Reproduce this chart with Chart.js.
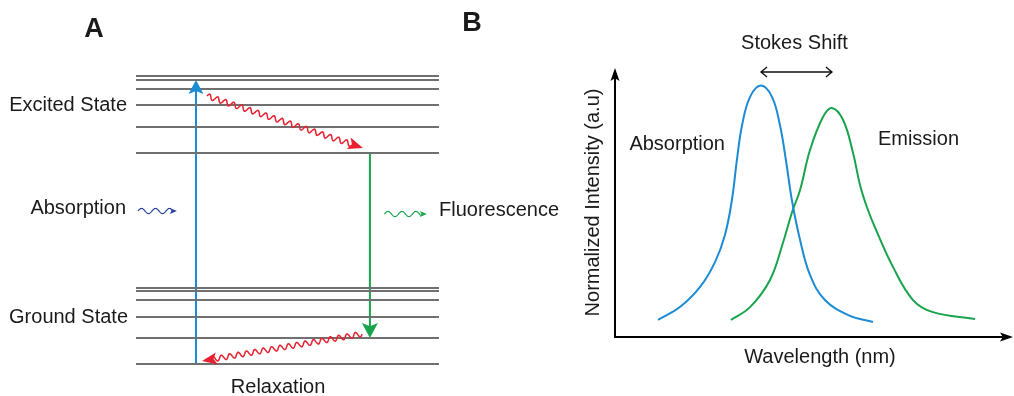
<!DOCTYPE html>
<html>
<head>
<meta charset="utf-8">
<script src="https://cdn.jsdelivr.net/npm/chart.js@4/dist/chart.umd.min.js"></script>
<style>
  body { margin: 0; background: #fff; }
  #wrap { position: relative; width: 1014px; height: 396px; }
  canvas { position: absolute; left: 0; top: 0; }
</style>
</head>
<body>
<div id="wrap">
  <canvas id="jablonski" width="1014" height="396"></canvas>
  <canvas id="spectra" width="1014" height="396"></canvas>
</div>
<script>
// ---- Panel A: energy levels (arbitrary units, lowest ground level = 0)
groundLevels = [0, 0.26, 0.47, 0.64, 0.73, 0.76];
excitedLevels = [2.11, 2.37, 2.59, 2.75, 2.84, 2.88];
absorptionX = 1.98;           // blue arrow, ground 0 -> excited 2.84
absorptionFromTo = [0, 2.84];
fluorescenceX = 7.72;         // green arrow, excited 2.11 -> ground 0.26
fluorescenceFromTo = [2.11, 0.26];
relaxTop = [[2.34, 2.68], [7.49, 2.16]];     // [x, E] start, end
relaxBottom = [[7.46, 0.30], [2.18, 0.03]];

// ---- Panel B: absorption / emission spectra
absWavelength = [417.3, 426.1, 434.2, 440.2, 444.2, 447.0, 449.0, 451.1, 454.3, 458.7, 463.1, 466.3, 468.7, 471.1, 474.4, 478.4, 484.4, 494.5, 503.7];
absIntensity  = [0.068, 0.119, 0.199, 0.298, 0.406, 0.545, 0.704, 0.843, 0.955, 1.0, 0.955, 0.843, 0.704, 0.545, 0.386, 0.247, 0.147, 0.084, 0.060];
emWavelength  = [446.6, 454.3, 462.3, 467.5, 471.2, 474.4, 478.4, 483.6, 487.2, 491.7, 495.7, 498.5, 501.4, 504.6, 511.8, 519.8, 527.8, 544.7];
emIntensity   = [0.068, 0.119, 0.227, 0.374, 0.497, 0.585, 0.744, 0.875, 0.911, 0.863, 0.732, 0.605, 0.513, 0.434, 0.278, 0.147, 0.099, 0.072];

const FONT = '"Liberation Sans", Arial, sans-serif';
const TXT = '#1a1a1a';
const BLUE = '#1b8bd4';
const GREEN = '#19a34c';
const RED = '#e8202f';
const GREY = '#707070';

function pts(xs, ys) { return xs.map((x, i) => ({ x: x, y: ys[i] })); }

function arrowHead(ctx, x, y, ang, len, wid, color) {
  ctx.save();
  ctx.translate(x, y);
  ctx.rotate(ang);
  ctx.beginPath();
  ctx.moveTo(0, 0);
  ctx.lineTo(-len, -wid / 2);
  ctx.lineTo(-len * 0.78, 0);
  ctx.lineTo(-len, wid / 2);
  ctx.closePath();
  ctx.fillStyle = color;
  ctx.fill();
  ctx.restore();
}

// wavy stroke between two pixel points, ending in an arrow head
function wavy(ctx, x1, y1, x2, y2, amp, period, color, lw, hl, hw) {
  const ang = Math.atan2(y2 - y1, x2 - x1);
  const L = Math.hypot(x2 - x1, y2 - y1) - hl * 0.8;
  ctx.save();
  ctx.translate(x1, y1);
  ctx.rotate(ang);
  ctx.beginPath();
  for (let s = 0; s <= L; s += 0.5) {
    const w = -amp * Math.sin(2 * Math.PI * s / period);
    if (s === 0) ctx.moveTo(s, w); else ctx.lineTo(s, w);
  }
  ctx.strokeStyle = color;
  ctx.lineWidth = lw;
  ctx.stroke();
  ctx.restore();
  arrowHead(ctx, x2, y2, ang, hl, hw, color);
}

function text(ctx, str, x, y, align, font) {
  ctx.save();
  ctx.font = font || ('20px ' + FONT);
  ctx.fillStyle = TXT;
  ctx.textAlign = align || 'center';
  ctx.textBaseline = 'middle';
  ctx.fillText(str, x, y);
  ctx.restore();
}

// ---------------- Chart A
const levelSets = groundLevels.concat(excitedLevels).map(e => ({
  data: [{ x: 0, y: e }, { x: 10, y: e }],
  borderColor: GREY, borderWidth: 1.8, pointRadius: 0, clip: false
}));

const jablonskiDecor = {
  id: 'jablonskiDecor',
  afterDatasetsDraw(chart) {
    const ctx = chart.ctx, xs = chart.scales.x, ys = chart.scales.y;
    const a = chart.chartArea;
    // heads of the straight transitions
    arrowHead(ctx, xs.getPixelForValue(absorptionX), ys.getPixelForValue(absorptionFromTo[1]), -Math.PI / 2, 14, 15, BLUE);
    arrowHead(ctx, xs.getPixelForValue(fluorescenceX), ys.getPixelForValue(fluorescenceFromTo[1]), Math.PI / 2, 15, 16, GREEN);
    // vibrational relaxation
    [relaxTop, relaxBottom].forEach(r => {
      wavy(ctx, xs.getPixelForValue(r[0][0]), ys.getPixelForValue(r[0][1]),
        xs.getPixelForValue(r[1][0]), ys.getPixelForValue(r[1][1]), 2.6, 8.5, RED, 1.5, 15, 12);
    });
    // labels
    const mid = ys.getPixelForValue(1.54);
    text(ctx, 'Excited State', a.left - 9, ys.getPixelForValue(excitedLevels[2]), 'right');
    text(ctx, 'Ground State', a.left - 8, ys.getPixelForValue(groundLevels[2]), 'right');
    text(ctx, 'Absorption', a.left - 10, mid - 2, 'right');
    wavy(ctx, a.left + 2, mid + 1, xs.getPixelForValue(1.35), mid + 1, 2.6, 14, '#27439b', 1.2, 7, 6);
    wavy(ctx, xs.getPixelForValue(8.2), mid + 4, xs.getPixelForValue(9.6), mid + 4, 2.6, 14, GREEN, 1.2, 7, 6);
    text(ctx, 'Fluorescence', a.right, mid, 'left');
    text(ctx, 'Relaxation', xs.getPixelForValue(4.69), a.bottom + 23, 'center');
    text(ctx, 'A', a.left - 42, 30, 'center', 'bold 27px ' + FONT);
  }
};

new Chart(document.getElementById('jablonski'), {
  type: 'line',
  data: {
    datasets: levelSets.concat([
      { data: [{ x: absorptionX, y: absorptionFromTo[0] }, { x: absorptionX, y: absorptionFromTo[1] - 0.08 }],
        borderColor: BLUE, borderWidth: 2, pointRadius: 0, clip: false },
      { data: [{ x: fluorescenceX, y: fluorescenceFromTo[0] }, { x: fluorescenceX, y: fluorescenceFromTo[1] + 0.08 }],
        borderColor: GREEN, borderWidth: 2, pointRadius: 0, clip: false }
    ])
  },
  options: {
    responsive: false, animation: false, devicePixelRatio: 1,
    layout: { padding: { left: 136, right: 575, top: 76, bottom: 32 } },
    plugins: { legend: { display: false }, tooltip: { enabled: false } },
    scales: {
      x: { type: 'linear', min: 0, max: 10, display: false },
      y: { type: 'linear', min: 0, max: 2.88, display: false }
    }
  },
  plugins: [jablonskiDecor]
});

// ---------------- Chart B
const spectraDecor = {
  id: 'spectraDecor',
  beforeDatasetsDraw(chart) {
    const ctx = chart.ctx, a = chart.chartArea;
    ctx.save();
    ctx.strokeStyle = '#000';
    ctx.lineWidth = 2;
    ctx.beginPath();
    ctx.moveTo(a.left, a.top + 8);
    ctx.lineTo(a.left, a.bottom);
    ctx.lineTo(a.right - 8, a.bottom);
    ctx.stroke();
    ctx.restore();
    arrowHead(ctx, a.left, a.top, -Math.PI / 2, 13, 9, '#000');
    arrowHead(ctx, a.right, a.bottom, 0, 13, 9, '#000');
  },
  afterDatasetsDraw(chart) {
    const ctx = chart.ctx, xs = chart.scales.x, ys = chart.scales.y, a = chart.chartArea;
    // Stokes shift: between the two peaks
    const ia = absIntensity.indexOf(Math.max(...absIntensity));
    const ie = emIntensity.indexOf(Math.max(...emIntensity));
    const x1 = xs.getPixelForValue(absWavelength[ia]);
    const x2 = xs.getPixelForValue(emWavelength[ie]);
    const y = ys.getPixelForValue(1.054);
    ctx.save();
    ctx.strokeStyle = '#111';
    ctx.lineWidth = 1.4;
    ctx.beginPath();
    ctx.moveTo(x1, y); ctx.lineTo(x2, y);
    ctx.moveTo(x1 + 6, y - 5); ctx.lineTo(x1, y); ctx.lineTo(x1 + 6, y + 5);
    ctx.moveTo(x2 - 6, y - 5); ctx.lineTo(x2, y); ctx.lineTo(x2 - 6, y + 5);
    ctx.stroke();
    ctx.restore();
    text(ctx, 'Stokes Shift', (x1 + x2) / 2 - 2, y - 29, 'center');
    text(ctx, 'Absorption', xs.getPixelForValue(425), ys.getPixelForValue(0.764), 'center');
    text(ctx, 'Emission', xs.getPixelForValue(522), ys.getPixelForValue(0.784), 'center');
    text(ctx, 'Wavelength (nm)', xs.getPixelForValue(482.4), a.bottom + 20, 'center');
    ctx.save();
    ctx.translate(a.left - 22, (a.top + a.bottom) / 2);
    ctx.rotate(-Math.PI / 2);
    text(ctx, 'Normalized Intensity (a.u)', 0, 0, 'center');
    ctx.restore();
    text(ctx, 'B', a.left - 143, 24, 'center', 'bold 27px ' + FONT);
  }
};

new Chart(document.getElementById('spectra'), {
  type: 'line',
  data: {
    datasets: [
      { label: 'Absorption', data: pts(absWavelength, absIntensity), borderColor: BLUE,
        borderWidth: 2, pointRadius: 0, tension: 0.4 },
      { label: 'Emission', data: pts(emWavelength, emIntensity), borderColor: GREEN,
        borderWidth: 2, pointRadius: 0, tension: 0.4 }
    ]
  },
  options: {
    responsive: false, animation: false, devicePixelRatio: 1,
    layout: { padding: { left: 615, right: 1, top: 68, bottom: 59 } },
    plugins: { legend: { display: false }, tooltip: { enabled: false } },
    scales: {
      x: { type: 'linear', min: 400, max: 560, display: false },
      y: { type: 'linear', min: 0, max: 1.07, display: false }
    }
  },
  plugins: [spectraDecor]
});
</script>
</body>
</html>
